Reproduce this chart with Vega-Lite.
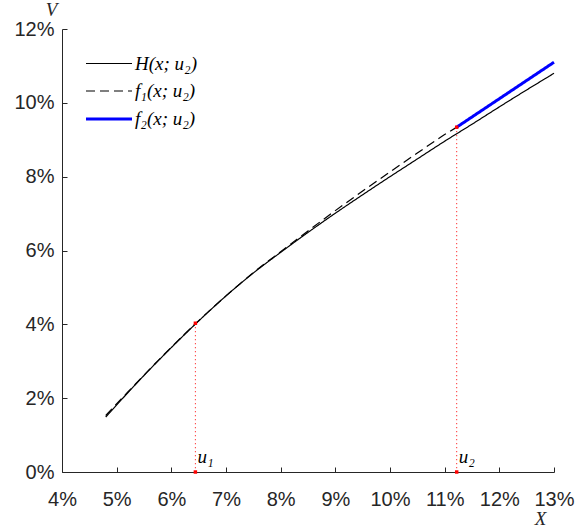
{
  "$schema": "https://vega.github.io/schema/vega-lite/v6.json",
  "width": 492,
  "height": 443,
  "autosize": "none",
  "padding": {"left": 62, "top": 29, "right": 21, "bottom": 57},
  "background": "white",
  "config": {
    "view": {"stroke": null},
    "axis": {
      "grid": false,
      "domainColor": "#262626",
      "domainWidth": 1,
      "tickColor": "#262626",
      "tickWidth": 1,
      "tickSize": -5,
      "labelFont": "Liberation Sans",
      "labelFontSize": 20,
      "labelColor": "#262626",
      "labelOverlap": false,
      "labelBound": false,
      "labelFlush": false,
      "titleFont": "Liberation Serif",
      "titleFontStyle": "italic",
      "titleFontWeight": "normal",
      "titleFontSize": 19,
      "titleColor": "#262626"
    }
  },
  "datasets": {
    "curves": [
      {"s": "H(x; u₂)", "x": 4.8, "y": 1.49},
      {"s": "H(x; u₂)", "x": 5.2, "y": 2.14},
      {"s": "H(x; u₂)", "x": 5.6, "y": 2.77},
      {"s": "H(x; u₂)", "x": 6.0, "y": 3.37},
      {"s": "H(x; u₂)", "x": 6.45, "y": 4.02},
      {"s": "H(x; u₂)", "x": 7.0, "y": 4.77},
      {"s": "H(x; u₂)", "x": 7.5, "y": 5.39},
      {"s": "H(x; u₂)", "x": 8.0, "y": 5.95},
      {"s": "H(x; u₂)", "x": 8.5, "y": 6.49},
      {"s": "H(x; u₂)", "x": 9.0, "y": 7.01},
      {"s": "H(x; u₂)", "x": 9.5, "y": 7.51},
      {"s": "H(x; u₂)", "x": 10.0, "y": 8.0},
      {"s": "H(x; u₂)", "x": 10.5, "y": 8.48},
      {"s": "H(x; u₂)", "x": 11.0, "y": 8.96},
      {"s": "H(x; u₂)", "x": 11.5, "y": 9.42},
      {"s": "H(x; u₂)", "x": 12.0, "y": 9.89},
      {"s": "H(x; u₂)", "x": 12.5, "y": 10.35},
      {"s": "H(x; u₂)", "x": 13.0, "y": 10.8},
      {"s": "f₁(x; u₂)", "x": 4.8, "y": 1.53},
      {"s": "f₁(x; u₂)", "x": 5.2, "y": 2.16},
      {"s": "f₁(x; u₂)", "x": 5.6, "y": 2.78},
      {"s": "f₁(x; u₂)", "x": 6.0, "y": 3.38},
      {"s": "f₁(x; u₂)", "x": 6.45, "y": 4.03},
      {"s": "f₁(x; u₂)", "x": 7.0, "y": 4.77},
      {"s": "f₁(x; u₂)", "x": 7.5, "y": 5.4},
      {"s": "f₁(x; u₂)", "x": 8.0, "y": 5.97},
      {"s": "f₁(x; u₂)", "x": 8.5, "y": 6.53},
      {"s": "f₁(x; u₂)", "x": 9.0, "y": 7.08},
      {"s": "f₁(x; u₂)", "x": 9.5, "y": 7.61},
      {"s": "f₁(x; u₂)", "x": 10.0, "y": 8.13},
      {"s": "f₁(x; u₂)", "x": 10.5, "y": 8.64},
      {"s": "f₁(x; u₂)", "x": 11.0, "y": 9.14},
      {"s": "f₁(x; u₂)", "x": 11.22, "y": 9.34},
      {"s": "f₂(x; u₂)", "x": 11.22, "y": 9.34},
      {"s": "f₂(x; u₂)", "x": 13.0, "y": 11.1}
    ],
    "marks": [
      {"name": "u₁", "x": 6.44, "y": 4.03, "base": 0},
      {"name": "u₂", "x": 11.22, "y": 9.34, "base": 0}
    ]
  },
  "layer": [
    {
      "data": {"name": "curves"},
      "mark": {"type": "line", "interpolate": "monotone"},
      "encoding": {
        "x": {
          "field": "x", "type": "quantitative",
          "scale": {"domain": [4, 13], "nice": false, "zero": false},
          "axis": {
            "values": [4, 5, 6, 7, 8, 9, 10, 11, 12, 13],
            "labelExpr": "datum.value + '%'",
            "labelPadding": 22,
            "title": "X",
            "titleX": 478,
            "titleY": 46,
            "titleAnchor": "middle",
            "titleBaseline": "middle",
            "titleAlign": "center"
          }
        },
        "y": {
          "field": "y", "type": "quantitative",
          "scale": {"domain": [0, 12], "nice": false},
          "axis": {
            "values": [0, 2, 4, 6, 8, 10, 12],
            "labelExpr": "datum.value + '%'",
            "labelPadding": 13,
            "title": "V",
            "titleAngle": 0,
            "titleX": -11,
            "titleY": -14,
            "titleAlign": "center",
            "titleBaseline": "alphabetic"
          }
        },
        "color": {
          "field": "s", "type": "nominal",
          "scale": {"domain": ["H(x; u₂)", "f₁(x; u₂)", "f₂(x; u₂)"], "range": ["#000000", "#000000", "#0000ff"]},
          "legend": {
            "orient": "none",
            "legendX": 34,
            "legendY": 22,
            "title": null,
            "symbolType": "M-2,0H2",
            "symbolSize": 529,
            "labelFont": "Liberation Serif",
            "labelFontStyle": "italic",
            "labelFontSize": 19,
            "labelColor": "#000000",
            "labelOffset": 13,
            "rowPadding": 4.5,
            "padding": 0
          }
        },
        "strokeDash": {
          "field": "s", "type": "nominal",
          "scale": {"domain": ["H(x; u₂)", "f₁(x; u₂)", "f₂(x; u₂)"], "range": [[1, 0], [9, 5], [1, 0]]}
        },
        "strokeWidth": {
          "field": "s", "type": "ordinal",
          "scale": {"type": "ordinal", "domain": ["H(x; u₂)", "f₁(x; u₂)", "f₂(x; u₂)"], "range": [1.2, 1.2, 3]}
        }
      }
    },
    {
      "data": {"name": "marks"},
      "mark": {"type": "rule", "color": "red", "strokeDash": [1, 3], "strokeWidth": 1},
      "encoding": {
        "x": {"field": "x", "type": "quantitative"},
        "y": {"field": "y", "type": "quantitative"},
        "y2": {"field": "base"}
      }
    },
    {
      "data": {"name": "marks"},
      "mark": {"type": "square", "color": "red", "filled": true, "size": 12, "opacity": 1},
      "encoding": {
        "x": {"field": "x", "type": "quantitative"},
        "y": {"field": "y", "type": "quantitative"}
      }
    },
    {
      "data": {"name": "marks"},
      "mark": {"type": "square", "color": "red", "filled": true, "size": 12, "opacity": 1},
      "encoding": {
        "x": {"field": "x", "type": "quantitative"},
        "y": {"field": "base", "type": "quantitative"}
      }
    },
    {
      "data": {"name": "marks"},
      "mark": {"type": "text", "align": "left", "baseline": "alphabetic", "dx": 2, "dy": -9, "font": "Liberation Serif", "fontStyle": "italic", "fontSize": 19, "color": "#000000"},
      "encoding": {
        "x": {"field": "x", "type": "quantitative"},
        "y": {"field": "base", "type": "quantitative"},
        "text": {"field": "name"}
      }
    }
  ]
}
